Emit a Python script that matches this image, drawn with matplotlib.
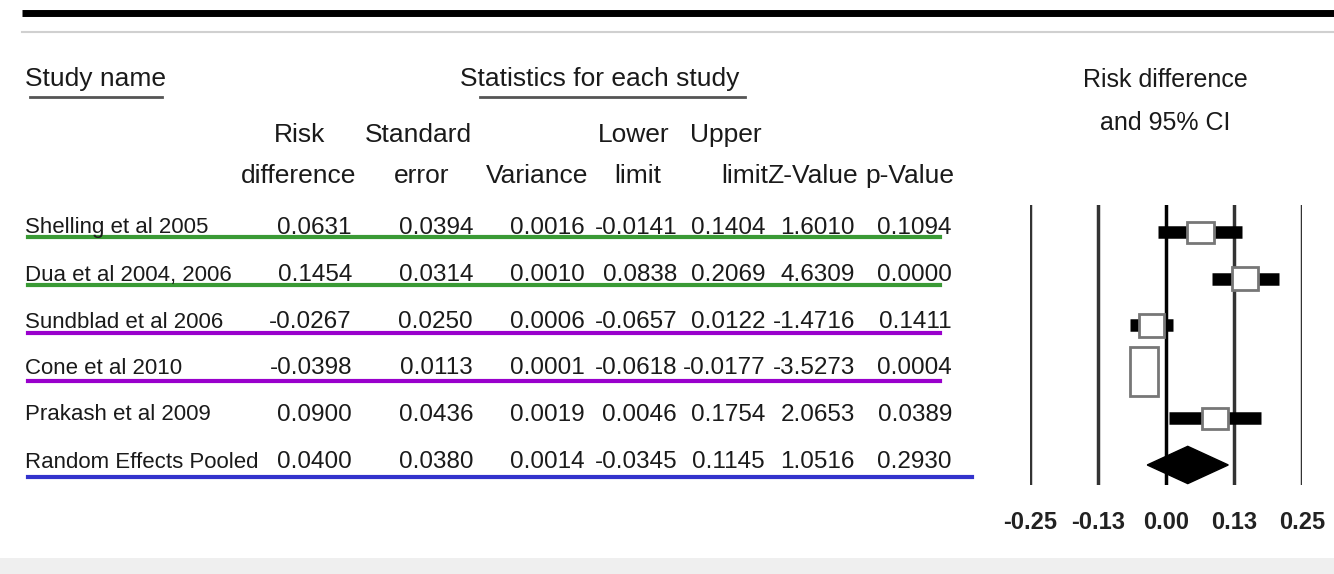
import matplotlib
matplotlib.use('Agg')
import matplotlib.pyplot as plt
from matplotlib.patches import Rectangle
import numpy as np

plt.rcParams['font.family'] = ['Liberation Sans', 'DejaVu Sans']

# Table data
studies = ['Shelling et al 2005', 'Dua et al 2004, 2006', 'Sundblad et al 2006',
           'Cone et al 2010', 'Prakash et al 2009', 'Random Effects Pooled']
risk_diff = [0.0631, 0.1454, -0.0267, -0.0398, 0.0900, 0.0400]
std_err = [0.0394, 0.0314, 0.0250, 0.0113, 0.0436, 0.0380]
variance = [0.0016, 0.0010, 0.0006, 0.0001, 0.0019, 0.0014]
lower = [-0.0141, 0.0838, -0.0657, -0.0618, 0.0046, -0.0345]
upper = [0.1404, 0.2069, 0.0122, -0.0177, 0.1754, 0.1145]
z_value = [1.6010, 4.6309, -1.4716, -3.5273, 2.0653, 1.0516]
p_value = [0.1094, 0.0000, 0.1411, 0.0004, 0.0389, 0.2930]
tick_vals = [-0.25, -0.125, 0.0, 0.125, 0.25]
tick_labels = ['-0.25', '-0.13', '0.00', '0.13', '0.25']

W, H = 1334, 574
fig = plt.figure(figsize=(W / 100, H / 100), dpi=100)
fig.patch.set_facecolor('white')

# overlay axes in pixel units for the table part
ax0 = fig.add_axes([0, 0, 1, 1])
ax0.set_xlim(0, W)
ax0.set_ylim(H, 0)
ax0.axis('off')

# frame decorations
ax0.plot([22, W], [13, 13], color='black', lw=5, solid_capstyle='butt')
ax0.plot([22, W], [32, 32], color='#d0d0d0', lw=1.5)
ax0.add_patch(Rectangle((0, 558), W, 16, color='#efefef', lw=0))

txt = '#1a1a1a'
hsize = 19
rsize = 17.5

ax0.text(25, 79, 'Study name', fontsize=hsize, color=txt, va='center', ha='left')
ax0.plot([30, 162], [97, 97], color='#555555', lw=2)
ax0.text(600, 79, 'Statistics for each study', fontsize=hsize, color=txt, va='center', ha='center')
ax0.plot([480, 745], [97, 97], color='#555555', lw=2)

headers = [('Risk', 300, 135), ('difference', 299, 176), ('Standard', 418, 135), ('error', 422, 176),
           ('Variance', 537, 176), ('Lower', 634, 135), ('limit', 638, 176),
           ('Upper', 726, 135), ('limit', 745, 176), ('Z-Value', 812, 176), ('p-Value', 910, 176)]
for s, x, y in headers:
    ax0.text(x, y, s, fontsize=hsize, color=txt, ha='center', va='center')

ax0.text(1165, 80, 'Risk difference', fontsize=hsize - 1, color=txt, ha='center', va='center')
ax0.text(1165, 123, 'and 95% CI', fontsize=hsize - 1, color=txt, ha='center', va='center')

row_y = [228, 275, 322, 368, 415, 462]
col_right = [352, 473, 585, 677, 765, 855, 952]
for i in range(len(studies)):
    y = row_y[i]
    ax0.text(25, y, studies[i], fontsize=16, color=txt, ha='left', va='center')
    vals = [risk_diff[i], std_err[i], variance[i], lower[i], upper[i], z_value[i], p_value[i]]
    for v, xr in zip(vals, col_right):
        ax0.text(xr, y, f'{v:.4f}', fontsize=rsize, color=txt, ha='right', va='center')

# highlight lines over the table
ax0.plot([28, 940], [237, 237], color='#3a9a35', lw=3)
ax0.plot([28, 940], [285, 285], color='#3a9a35', lw=3)
ax0.plot([28, 940], [333, 333], color='#9900cc', lw=3)
ax0.plot([28, 940], [381, 381], color='#9900cc', lw=3)
ax0.plot([28, 972], [477, 477], color='#3333cc', lw=3)

# forest plot axes
x0, x1 = 1030, 1302
y0, y1 = 205, 485
ax = fig.add_axes([x0 / W, 1 - y1 / H, (x1 - x0) / W, (y1 - y0) / H])
ax.set_xlim(-0.25, 0.25)
ax.set_ylim(5.43, -0.58)
ax.patch.set_alpha(0)
for sp in ax.spines.values():
    sp.set_visible(False)
ax.set_yticks([])
ax.set_xticks(tick_vals)
ax.set_xticklabels(tick_labels, fontsize=17, fontweight='bold', color='#222222')
ax.tick_params(axis='x', length=0, pad=19)

for t in tick_vals:
    ax.axvline(t, color='black' if t == 0 else '#333333', lw=2.5, zorder=1)

n = len(studies) - 1
box_w = [0.050, 0.048, 0.045, 0.052, 0.048]
box_h = [0.45, 0.5, 0.5, 1.05, 0.45]
for i in range(n):
    ax.plot([lower[i], upper[i]], [i, i], color='black', lw=9, solid_capstyle='butt', zorder=2)
    ax.add_patch(Rectangle((risk_diff[i] - box_w[i] / 2, i - box_h[i] / 2), box_w[i], box_h[i],
                           facecolor='white', edgecolor='#777777', lw=2, zorder=3))

# pooled diamond
k = n
ax.fill([lower[k], risk_diff[k], upper[k], risk_diff[k]], [k, k - 0.4, k, k + 0.4],
        color='black', zorder=3)

fig.savefig('out.png', dpi=100)
